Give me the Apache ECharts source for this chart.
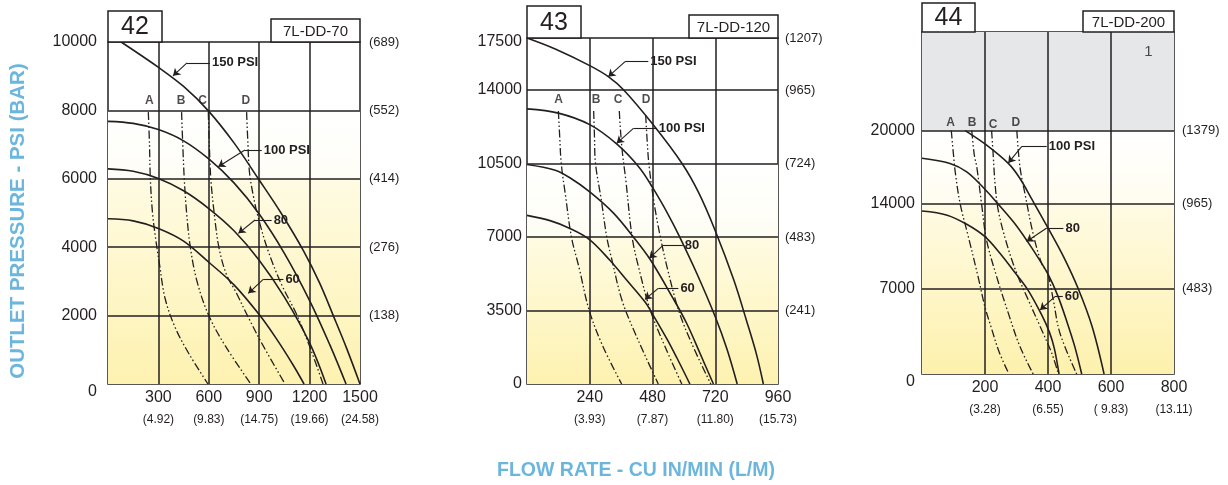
<!DOCTYPE html>
<html><head><meta charset="utf-8">
<script src="https://cdn.jsdelivr.net/npm/echarts@6/dist/echarts.min.js"></script>
<style>html,body{margin:0;padding:0;background:#fff}#c{width:1228px;height:485px}</style>
</head><body><div id="c"></div>
<script>
// ================= DATA =================
// Panel 42 (7L-DD-70)
const p1XTicks = [300, 600, 900, 1200, 1500];
const p1XMetric = ['(4.92)', '(9.83)', '(14.75)', '(19.66)', '(24.58)'];
const p1YTicks = [0, 2000, 4000, 6000, 8000, 10000];
const p1YBar = ['', '(138)', '(276)', '(414)', '(552)', '(689)'];
const p1_150 = [[78,10000],[303,9250],[450,8700],[595,8000],[750,7050],[895,6000],[1030,5000],[1163,3900],[1260,2950],[1341,2000],[1420,1050],[1500,0]];
const p1_100 = [[0,7680],[150,7620],[300,7440],[450,7110],[600,6580],[750,5880],[900,4970],[1050,3820],[1200,2440],[1320,1150],[1417,0]];
const p1_80 = [[0,6290],[150,6220],[300,6010],[450,5650],[600,5130],[750,4480],[900,3620],[1050,2540],[1200,1200],[1298,0]];
const p1_60 = [[0,4830],[150,4770],[300,4550],[450,4180],[600,3560],[750,2900],[900,2030],[1000,1340],[1100,570],[1167,0]];
const p1_A = [[240,7950],[247,7000],[252,6000],[265,5000],[285,4200],[305,3550],[340,2500],[400,1650],[480,900],[595,0]];
const p1_B = [[438,7950],[445,7000],[454,6000],[468,5000],[490,4000],[530,3000],[600,2000],[700,1100],[850,0]];
const p1_C = [[597,7950],[603,7000],[612,6000],[632,5000],[660,4000],[705,3200],[760,2700],[830,2000],[920,1150],[1054,0]];
const p1_D = [[825,7950],[833,7000],[842,6200],[865,5500],[895,4850],[954,3880],[1034,2900],[1123,2030],[1200,1100],[1280,0]];

// Panel 43 (7L-DD-120)
const p2XTicks = [240, 480, 720, 960];
const p2XMetric = ['(3.93)', '(7.87)', '(11.80)', '(15.73)'];
const p2YTicks = [0, 3500, 7000, 10500, 14000, 17500];
const p2YBar = ['', '(241)', '(483)', '(724)', '(965)', '(1207)'];
const p2_150 = [[0,17500],[108,16760],[240,15640],[311,14900],[370,14000],[479,12400],[593,10500],[657,9100],[720,7300],[791,4950],[840,3000],[878,1400],[904,0]];
const p2_100 = [[0,13100],[120,12900],[240,12350],[344,11420],[430,10300],[483,9300],[540,8070],[580,7100],[650,5250],[720,3200],[765,1650],[804,0]];
const p2_80 = [[0,10450],[108,10180],[164,9820],[240,9150],[330,8150],[407,7000],[470,5950],[560,4050],[611,2880],[662,1450],[713,0]];
const p2_60 = [[0,8030],[88,7780],[160,7430],[239,6880],[317,5890],[381,4950],[453,3880],[480,3330],[535,2150],[573,1250],[623,0]];
const p2_A = [[120,13000],[125,11800],[131,10500],[147,9000],[170,7000],[200,5500],[238,3500],[290,1800],[362,0]];
const p2_B = [[255,13000],[258,11800],[262,10500],[285,8700],[305,7000],[325,5900],[363,4000],[414,2400],[502,0]];
const p2_C = [[353,13000],[358,12000],[365,11000],[378,9700],[402,7000],[427,5550],[472,3500],[529,1750],[592,0]];
const p2_D = [[454,12800],[460,11500],[466,10500],[485,8700],[510,7000],[536,5550],[580,3500],[631,1900],[703,0]];

// Panel 44 (7L-DD-200)
const p3XTicks = [200, 400, 600, 800];
const p3XMetric = ['(3.28)', '(6.55)', '( 9.83)', '(13.11)'];
const p3YTicks = [0, 7000, 14000, 20000];
const p3YBar = ['', '(483)', '(965)', '(1379)'];
const p3_100 = [[137,20000],[200,18900],[274,17300],[310,16100],[350,14300],[400,12000],[450,9600],[496,7000],[540,3900],[578,0]];
const p3_80 = [[0,17730],[89,17300],[142,16600],[199,15200],[237,14100],[290,12500],[332,11000],[370,9500],[400,8200],[430,6500],[460,4300],[485,2250],[507,0]];
const p3_60 = [[0,13390],[80,13050],[142,12300],[199,11300],[248,9900],[290,8500],[335,6950],[380,4850],[405,3400],[420,2100],[435,0]];
const p3_A = [[93,20000],[100,18000],[106,16500],[121,14000],[146,11400],[178,8000],[200,5500],[220,3800],[245,1800],[276,0]];
const p3_B = [[158,20000],[166,18000],[174,17000],[189,14000],[205,11000],[237,8000],[274,5000],[311,2250],[353,0]];
const p3_C = [[221,20000],[226,18000],[232,15600],[242,13450],[269,10700],[301,8250],[338,6050],[375,3900],[412,1700],[433,0]];
const p3_D = [[301,20000],[311,17000],[327,14800],[353,11500],[380,9070],[399,8250],[417,6050],[438,3350],[491,0]];

// Annotations (data coordinates): [text, labelEnd, elbow, arrowTip]
const p1Callouts = [['150 PSI',[607,9390],[470,9390],[387,9010]],['100 PSI',[915,6840],[815,6840],[656,6355]],['80',[974,4795],[875,4795],[776,4405]],['60',[1044,3060],[924,3060],[835,2650]]];
const p2Callouts = [['150 PSI',[464,15905],[375,15905],[311,14895]],['100 PSI',[496,12176],[407,12176],[343,11462]],['80',[596,6586],[519,6586],[468,5986]],['60',[579,4557],[502,4557],[451,4033]]];
const p3Callouts = [['100 PSI',[396,18707],[317,18707],[274,17341]],['80',[449,11991],[396,11991],[332,10888]],['60',[447,6362],[422,6362],[375,5267]]];
const p1Letters = [['A',246,8270],['B',435,8270],['C',563,8270],['D',820,8270]];
const p2Letters = [['A',121,13530],['B',264,13530],['C',348,13530],['D',455,13530]];
const p3Letters = [['A',91,20630],['B',159,20630],['C',226,20500],['D',298,20650]];
const p3Note = [['1',719,26500]];

// ================= CHART =================
const FONT = "'Liberation Sans', Arial, Helvetica, sans-serif";
const INK = '#231f20';
const P2_BREAK = 14000, P2_K = 0.7075;   // compressed top row of panel 43
const p2y = v => v <= P2_BREAK ? v : P2_BREAK + (v - P2_BREAK) * P2_K;
const ident = v => v;

const panels = [
  {grid:{left:108, top:42, width:252, height:342}, xMax:1500, xInt:300, xTicks:p1XTicks, xMetric:p1XMetric,
   yTicks:p1YTicks, yBar:p1YBar, yMax:10000, yInt:2000, tf:ident, lm:11, rm:9, zeroShift:true, topShift:false,
   solids:[p1_150,p1_100,p1_80,p1_60], dashes:[p1_A,p1_B,p1_C,p1_D], callouts:p1Callouts, letters:p1Letters,
   bands:[[8000,6000,'#ffffff','#fefdf5'],[6000,0,'#fffbe3','#fdf2b0']]},
  {grid:{left:527, top:38, width:251, height:346}, xMax:960, xInt:240, xTicks:p2XTicks, xMetric:p2XMetric,
   yTicks:p2YTicks, yBar:p2YBar, yMax:17500, yInt:3500, tf:p2y, lm:5, rm:7, zeroShift:false, topShift:true,
   solids:[p2_150,p2_100,p2_80,p2_60], dashes:[p2_A,p2_B,p2_C,p2_D], callouts:p2Callouts, letters:p2Letters,
   bands:[[10500,7000,'#ffffff','#fefdf3'],[7000,0,'#fffbe3','#fdf2b0']]},
  {grid:{left:922, top:32, width:252, height:342}, xMax:800, xInt:200, xTicks:p3XTicks, xMetric:p3XMetric,
   yTicks:p3YTicks, yBar:p3YBar, yMax:28100, yInt:1000, tf:ident, lm:7, rm:8, zeroShift:true, topShift:false,
   solids:[p3_100,p3_80,p3_60], dashes:[p3_A,p3_B,p3_C,p3_D], callouts:p3Callouts, letters:p3Letters,
   bands:[[20000,14000,'#ffffff','#fffdf0'],[14000,0,'#fffbe4','#fdf1ad']], gray:[20000,28100], note:p3Note}
];

const grids = [], xAxes = [], yAxes = [], series = [];
panels.forEach((p, gi) => {
  grids.push(Object.assign({show:true, borderColor:INK, borderWidth:1.5, backgroundColor:'transparent', containLabel:false}, p.grid));
  xAxes.push({type:'value', gridIndex:gi, min:0, max:p.xMax, interval:p.xInt,
    axisLine:{show:false}, axisTick:{show:false}, splitLine:{show:false},
    axisLabel:{margin:4, color:INK, fontFamily:FONT,
      formatter:v => { const i = p.xTicks.indexOf(v); return i < 0 ? '' : '{a|' + v + '}\n{b|' + p.xMetric[i] + '}'; },
      rich:{a:{fontSize:16, lineHeight:20, color:INK, fontFamily:FONT, align:'center'},
            b:{fontSize:12, lineHeight:24, color:INK, fontFamily:FONT, align:'center'}}}});
  const ymax = p.tf(p.yMax);
  const tickPos = p.yTicks.map(p.tf);
  const common = {type:'value', gridIndex:gi, min:0, max:ymax, interval:p.yInt, axisLine:{show:false}, axisTick:{show:false}, splitLine:{show:false}};
  yAxes.push(Object.assign({}, common, {position:'left',
    axisLabel:{margin:p.lm, color:INK, fontSize:16, fontFamily:FONT,
      formatter:v => {
        const i = tickPos.indexOf(v); if (i < 0) return '';
        if (v === 0 && p.zeroShift) return '{z|0}';
        if (v === ymax && p.topShift) return '{t|' + p.yTicks[i] + '}';
        return String(p.yTicks[i]); },
      rich:{z:{fontSize:16, color:INK, fontFamily:FONT, padding:[15,0,0,0]},
            t:{fontSize:16, color:INK, fontFamily:FONT, padding:[8,0,0,0]}}}}));
  yAxes.push(Object.assign({}, common, {position:'right',
    axisLabel:{margin:p.rm, color:INK, fontSize:13, fontFamily:FONT,
      formatter:v => { const i = tickPos.indexOf(v); return i < 0 ? '' : p.yBar[i]; }}}));
  const yi = gi * 2;
  // background bands
  const areas = p.bands.map(b => [{yAxis:p.tf(b[0]), itemStyle:{color:{type:'linear',x:0,y:0,x2:0,y2:1,colorStops:[{offset:0,color:b[2]},{offset:1,color:b[3]}]}}}, {yAxis:p.tf(b[1])}]);
  if (p.gray) areas.push([{yAxis:p.gray[0], itemStyle:{color:'#e6e7e8'}}, {yAxis:p.gray[1]}]);
  series.push({type:'line', xAxisIndex:gi, yAxisIndex:yi, data:[], z:-1, silent:true,
    markArea:{silent:true, data:areas}});
  // grid lines at the tick values
  const gl = p.xTicks.filter(v => v < p.xMax).map(v => ({xAxis:v}))
    .concat(p.yTicks.filter(v => v > 0 && v < p.yMax).map(v => ({yAxis:p.tf(v)})));
  series.push({type:'line', xAxisIndex:gi, yAxisIndex:yi, data:[], z:1, silent:true,
    markLine:{silent:true, symbol:'none', label:{show:false}, lineStyle:{color:INK, width:1.5, type:'solid'}, data:gl}});
  p.solids.forEach(d => series.push({type:'line', xAxisIndex:gi, yAxisIndex:yi, z:3, silent:true,
    data:d.map(q => [q[0], p.tf(q[1])]), symbol:'none', smooth:0.35,
    lineStyle:{color:INK, width:1.6}}));
  p.dashes.forEach(d => series.push({type:'line', xAxisIndex:gi, yAxisIndex:yi, z:3, silent:true,
    data:d.map(q => [q[0], p.tf(q[1])]), symbol:'none', smooth:0.35,
    lineStyle:{color:INK, width:1.3, type:[8,2.5,1.5,2.5,1.5,2.5]}}));
  // callouts
  const ml = [];
  p.callouts.forEach(c => {
    const e = [c[1][0], p.tf(c[1][1])], m = [c[2][0], p.tf(c[2][1])], t = [c[3][0], p.tf(c[3][1])];
    ml.push([{coord:m, symbol:'none'}, {coord:e, symbol:'none', label:{show:true, position:'end', distance:2, formatter:c[0],
      color:INK, fontWeight:'bold', fontSize:13, fontFamily:FONT}}]);
    ml.push([{coord:m, symbol:'none'}, {coord:t, symbol:'arrow'}]);
  });
  series.push({type:'line', xAxisIndex:gi, yAxisIndex:yi, data:[], z:4, silent:true,
    markLine:{silent:true, symbolSize:7, label:{show:false}, lineStyle:{color:INK, width:1.1, type:'solid'}, data:ml}});
  // letters
  series.push({type:'scatter', xAxisIndex:gi, yAxisIndex:yi, z:5, silent:true, symbolSize:1,
    itemStyle:{color:'rgba(0,0,0,0)'},
    data:p.letters.map(l => ({value:[l[1], p.tf(l[2])], name:l[0]})),
    label:{show:true, position:'inside', formatter:'{b}', color:INK, fontWeight:'bold', fontSize:12, fontFamily:FONT}});
  if (p.note) series.push({type:'scatter', xAxisIndex:gi, yAxisIndex:yi, z:5, silent:true, symbolSize:1,
    itemStyle:{color:'rgba(0,0,0,0)'},
    data:p.note.map(l => ({value:[l[1], l[2]], name:l[0]})),
    label:{show:true, position:'inside', formatter:'{b}', color:INK, fontSize:15, fontFamily:FONT}});
});

const boxStyle = {fill:'#fff', stroke:INK, lineWidth:1.5};
function box(x, y, w, h, text, size) {
  return [{type:'rect', z:10, shape:{x, y, width:w, height:h}, style:boxStyle},
          {type:'text', z:11, x:x + w / 2, y:y + h / 2 + 1, style:{text, fill:INK, font:size + 'px ' + FONT, textAlign:'center', textVerticalAlign:'middle'}}];
}
const graphic = [].concat(
  box(108, 11, 54, 31, '42', 25), box(271, 19, 89, 23, '7L-DD-70', 15),
  box(527, 6, 54, 32, '43', 25), box(689, 15, 89, 23, '7L-DD-120', 15),
  box(922, 3, 53, 29, '44', 25), box(1083, 11, 91, 21, '7L-DD-200', 15),
  [{type:'text', z:11, x:18, y:221, rotation:Math.PI / 2,
    style:{text:'OUTLET PRESSURE - PSI (BAR)', fill:'#6cb6de', font:'bold 20.5px ' + FONT, textAlign:'center', textVerticalAlign:'middle'}},
   {type:'text', z:11, x:636, y:471,
    style:{text:'FLOW RATE - CU IN/MIN (L/M)', fill:'#6cb6de', font:'bold 19.5px ' + FONT, textAlign:'center', textVerticalAlign:'middle'}}]
);

const chart = echarts.init(document.getElementById('c'), null, {renderer:'canvas'});
chart.setOption({animation:false, backgroundColor:'#fff', grid:grids, xAxis:xAxes, yAxis:yAxes, series, graphic});
</script></body></html>
